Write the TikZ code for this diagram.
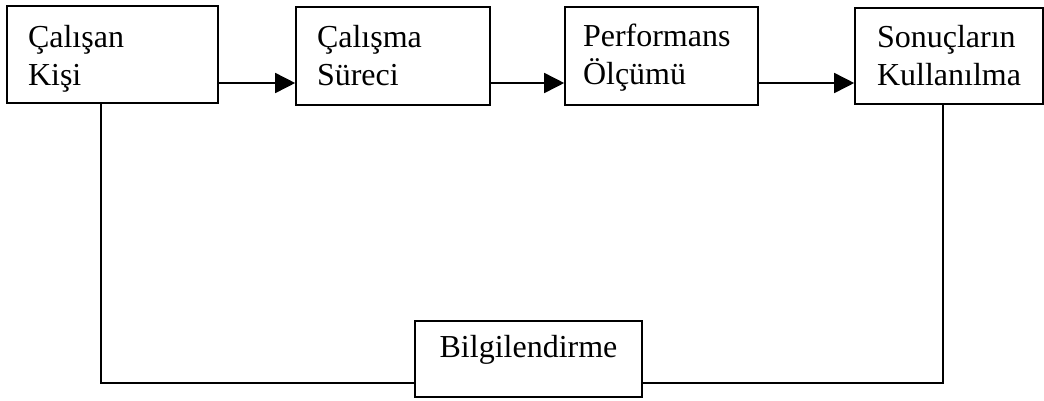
\documentclass[tikz,border=0pt]{standalone}
\usepackage{fontspec}
\setmainfont{Liberation Serif}
\usetikzlibrary{arrows.meta}
\begin{document}
\begin{tikzpicture}[x=1pt,y=-1pt,
  box/.style={draw, line width=1.6pt, align=left, inner ysep=0pt,
    font=\fontsize{32}{38}\selectfont, text height=25pt},
  conn/.style={line width=1.6pt},
  arr/.style={conn, -{Triangle[length=20pt,width=20pt]}}]
\useasboundingbox (0,0) rectangle (1044,400);
\node[box, minimum width=211pt, minimum height=97pt, text width=169pt, inner xsep=21pt, text depth=40pt] (b1) at (112.5,54.5) {Çalışan\\Kişi};
\node[box, minimum width=194pt, minimum height=98pt, text width=152pt, inner xsep=21pt, text depth=43pt] (b2) at (393,56) {Çalışma\\Süreci};
\node[box, minimum width=193pt, minimum height=98pt, text width=157pt, inner xsep=18pt, text depth=45pt] (b3) at (661.5,56) {Performans\\Ölçümü};
\node[box, minimum width=188pt, minimum height=96pt, text width=144pt, inner xsep=22pt, text depth=43pt] (b4) at (949,56) {Sonuçların\\Kullanılma};
\node[box, minimum width=227pt, minimum height=76pt, align=center, text depth=29pt] (b5) at (528.5,359) {Bilgilendirme};
\coordinate (ay) at (0,83);
\coordinate (f1) at (101,383);
\coordinate (f2) at (943,383);
\draw[arr] (b1.east |- ay) -- (b2.west |- ay);
\draw[arr] (b2.east |- ay) -- (b3.west |- ay);
\draw[arr] (b3.east |- ay) -- (b4.west |- ay);
\draw[conn] (b1.south -| f1) -- (f1) -- (b5.west |- f1);
\draw[conn] (b4.south -| f2) -- (f2) -- (b5.east |- f2);
\end{tikzpicture}
\end{document}
